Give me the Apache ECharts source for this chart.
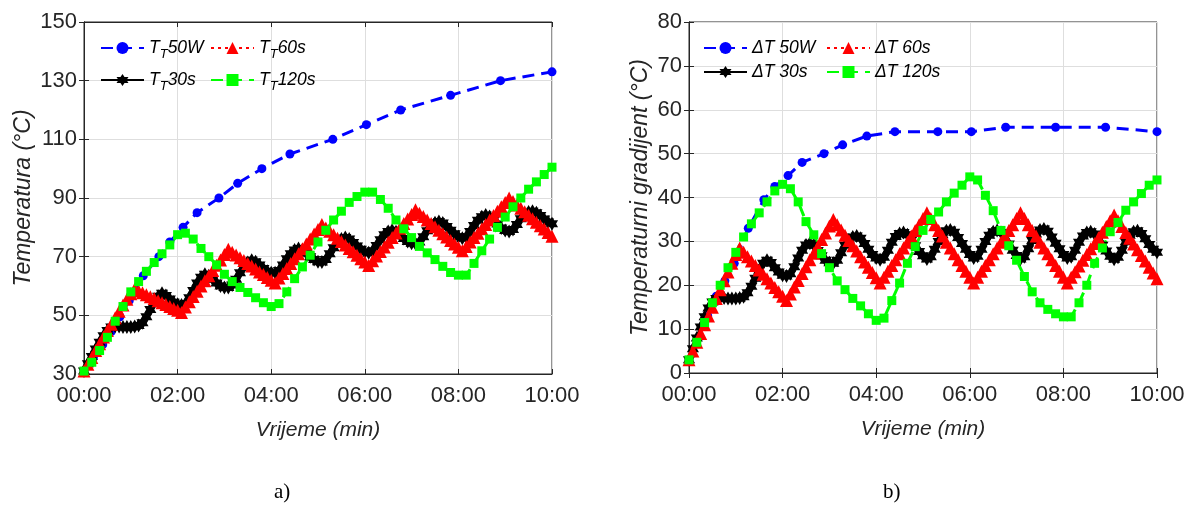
<!DOCTYPE html>
<html><head><meta charset="utf-8">
<script src="https://cdn.jsdelivr.net/npm/echarts@6/dist/echarts.min.js"></script>
<style>html,body{margin:0;padding:0;background:#fff}#c{width:1192px;height:508px}</style>
</head><body><div id="c"></div>
<script>
// time stamps in seconds
const tBlue = [0, 12, 24, 35, 46, 58, 76, 96, 110, 127, 145, 173, 197, 228, 264, 319, 362, 406, 470, 534, 600];
const t5 = [0,5,10,15,20,25,30,35,40,45,50,55,60,65,70,75,80,85,90,95,100,105,110,115,120,125,130,135,140,145,150,155,160,165,170,175,180,185,190,195,200,205,210,215,220,225,230,235,240,245,250,255,260,265,270,275,280,285,290,295,300,305,310,315,320,325,330,335,340,345,350,355,360,365,370,375,380,385,390,395,400,405,410,415,420,425,430,435,440,445,450,455,460,465,470,475,480,485,490,495,500,505,510,515,520,525,530,535,540,545,550,555,560,565,570,575,580,585,590,595,600];
const t10 = [0,10,20,30,40,50,60,70,80,90,100,110,120,130,140,150,160,170,180,190,200,210,220,230,240,250,260,270,280,290,300,310,320,330,340,350,360,370,380,390,400,410,420,430,440,450,460,470,480,490,500,510,520,530,540,550,560,570,580,590,600];

// panel a) temperature T_T
const blueT = [31, 35.5, 40, 44.5, 49.5, 55, 63.5, 70, 75, 80, 85, 90, 95, 100, 105, 110, 115, 120, 125, 130, 133];
const redT = [31,33.3,35.6,38,40.3,42.6,44.8,47,49.2,51.4,53.5,55.5,57.4,59,
 58.3,57.7,57,56.3,55.7,55,54.3,53.7,53,52.3,51.7,51,
 52.8,54.6,56.4,58.2,60,61.8,63.5,65.3,67.1,68.9,70.7,72.5,
 71.5,70.6,69.6,68.7,67.7,66.8,65.8,64.8,63.9,62.9,62,61,
 62.7,64.3,66,67.7,69.3,71,72.7,74.3,76,77.7,79.3,81,
 79.8,78.7,77.5,76.3,75.2,74,72.8,71.7,70.5,69.3,68.2,67,
 68.6,70.2,71.8,73.3,74.9,76.5,78.1,79.7,81.3,82.8,84.4,86,
 84.8,83.7,82.5,81.3,80.2,79,77.8,76.7,75.5,74.3,73.2,72,
 73.5,75,76.5,78,79.5,81,82.5,84,85.5,87,88.5,90,
 88.8,87.6,86.5,85.3,84.1,82.9,81.7,80.5,79.4,78.2,77];
const blackT = [31,33.5,36,38.5,40.8,43,44.8,46,46.3,46.2,46,46,
 46,46.2,46.5,47.5,49.5,52,54.5,56.5,57.5,56.8,55.6,54.5,
 53.8,53.5,54,56,58.5,61,63,64,63.5,62.3,61,60,
 59.5,59.5,60.3,62.3,64.5,66.5,68,68.8,68.3,67.2,66,65,
 64.5,64.5,65.3,67.2,69.3,71,72.3,72.8,72.3,71.2,70,69,
 68.3,68.2,69,71,73,74.8,76,76.5,76,74.8,73.6,72.5,
 71.6,71.3,72,73.8,75.8,77.5,78.6,79,78.5,77.4,76.2,75.2,
 74.6,74.4,75,76.8,78.8,80.5,81.6,82,81.5,80.3,79,77.8,
 76.8,76.3,76.8,78.6,80.6,82.4,83.6,84.2,83.7,82.5,81.1,79.8,
 78.9,78.6,79.3,81,82.9,84.4,85.2,85.5,85,84,82.8,81.8,
 81.2];
const greenT = [31,34,38,42.5,48,53,58,61.5,65,68,71,74,
 77.5,78,76,72.8,70,67.2,64,61.5,59.5,57.8,56,54.3,
 53,54,58,62.5,66.5,70.5,75,79,82.5,85.5,88.5,90.5,
 92,92,89.5,86.5,82.5,79.5,76.5,73.5,71.3,69,66.7,64.6,
 63.7,63.7,67.7,72,76,80,83.5,87,90,93,95.5,98,
 100.5];

// panel b) temperature gradient ΔT
const blueDT = [3, 8, 13, 17.5, 21, 25, 33, 39.5, 42.5, 45, 48, 50, 52, 54, 55, 55, 55, 56, 56, 56, 55];
const redDT = [3,5,7,9,11,13,15,17,19,21,23,25,27,28.5,
 27.5,26.5,25.5,24.5,23.5,22.5,21.5,20.5,19.5,18.5,17.5,16.5,
 18,19.6,21.1,22.7,24.2,25.8,27.3,28.8,30.4,31.9,33.5,35,
 33.8,32.6,31.4,30.2,29,27.8,26.5,25.3,24.1,22.9,21.7,20.5,
 21.8,23.2,24.5,25.8,27.2,28.5,29.8,31.2,32.5,33.8,35.2,36.5,
 35.2,33.8,32.5,31.2,29.8,28.5,27.2,25.8,24.5,23.2,21.8,20.5,
 21.8,23.2,24.5,25.8,27.2,28.5,29.8,31.2,32.5,33.8,35.2,36.5,
 35.2,33.8,32.5,31.2,29.8,28.5,27.2,25.8,24.5,23.2,21.8,20.5,
 21.8,23.1,24.4,25.7,27,28.3,29.5,30.8,32.1,33.4,34.7,36,
 34.7,33.4,32,30.7,29.4,28.1,26.8,25.5,24.1,22.8,21.5];
const blackDT = [3,5.5,8,10.5,12.8,14.8,16.2,17,17.2,17.1,17,17,
 17,17.1,17.4,18.3,19.8,21.6,23.4,25,25.7,25.2,24,23,
 22.3,22.1,22.6,24.2,26.2,28,29.2,29.6,29.1,27.9,26.7,25.7,
 25.1,25,25.7,27.4,29.1,30.3,31,31.2,30.7,29.5,28.2,27,
 26.2,25.8,26.4,28,29.8,31.1,31.8,32,31.5,30.3,29,27.7,
 26.7,26,26.5,28.2,30,31.5,32.4,32.6,32.1,30.9,29.5,28.2,
 27,26.2,26.6,28.2,30,31.4,32.2,32.5,32,30.8,29.4,28,
 26.8,26,26.5,28.3,30.2,31.7,32.6,32.8,32.3,31,29.6,28.3,
 27,26.2,26.5,28,29.8,31.2,32,32.2,31.7,30.5,29.1,27.8,
 26.6,25.9,26.4,28,29.9,31.4,32.2,32.4,31.8,30.6,29.3,28.2,
 27.5];
const greenDT = [3,7,11.5,16,20,24,27.5,31,34,36.5,39,41.5,
 43,42,39,34.5,31.5,27.2,24,21,19,17,15.3,13.5,
 12,12.5,16.5,20.5,25,28.8,32.5,35,36.7,39,41,42.8,
 44.7,44,40.5,37,32.5,29,25.7,22,18.5,16,14.5,13.5,
 12.8,12.8,16,20,25,28.5,32.2,34.3,37.1,39,40.9,42.8,
 44];

const namesA = ['T_T50W', 'T_T60s', 'T_T30s', 'T_T120s'];
const namesB = ['ΔT 50W', 'ΔT 60s', 'ΔT 30s', 'ΔT 120s'];
const yTicksA = [30, 150, 20];
const yTicksB = [0, 80, 10];

const FONT = '"Liberation Sans", Arial, Helvetica, sans-serif';
const STAR = 'path://M10 0 L12.89 5 L18.66 5 L15.77 10 L18.66 15 L12.89 15 L10 20 L7.11 15 L1.34 15 L4.23 10 L1.34 5 L7.11 5 Z';
const pair = (ts, vs) => ts.map((t, i) => [t, vs[i]]);
const pad = n => (n < 10 ? '0' : '') + n;
const fmtTime = v => pad(Math.floor(v / 60)) + ':' + pad(Math.round(v % 60));

const styles = {
  blue:  { color: '#0000ff', symbol: 'circle', size: 9, type: [12, 7] },
  red:   { color: '#ff0000', symbol: 'triangle', size: 13, type: [3, 4] },
  black: { color: '#000000', symbol: STAR, size: 14, type: 'solid' },
  green: { color: '#00ff00', symbol: 'rect', size: 9, type: [12, 7] }
};
function mk(name, data, st, gi) {
  return {
    type: 'line', name, data, xAxisIndex: gi, yAxisIndex: gi,
    symbol: st.symbol, symbolSize: st.size, symbolKeepAspect: true,
    showSymbol: true, showAllSymbol: true,
    lineStyle: { color: st.color, width: 3, type: st.type },
    itemStyle: { color: st.color, borderWidth: 0 },
    animation: false, silent: true
  };
}

const grids = [
  { left: 84, top: 22, width: 468, height: 352, show: true, borderColor: '#262626', borderWidth: 1 },
  { left: 689, top: 22, width: 468, height: 351, show: true, borderColor: '#262626', borderWidth: 1 }
];
const axCol = '#262626';
function xBottom(gi) {
  return { type: 'value', gridIndex: gi, min: 0, max: 600, interval: 120, position: 'bottom',
    name: 'Vrijeme (min)', nameLocation: 'middle', nameGap: 46,
    nameTextStyle: { fontFamily: FONT, fontStyle: 'italic', fontSize: 21, color: axCol },
    axisLine: { show: true, lineStyle: { color: axCol, width: 1 } },
    axisTick: { inside: true, length: 5, lineStyle: { color: axCol } },
    axisLabel: { formatter: fmtTime, fontFamily: FONT, fontSize: 22, color: axCol, margin: 11 },
    splitLine: { show: true, lineStyle: { color: '#dedede', width: 1 } } };
}
function xTop(gi) {
  return { type: 'value', gridIndex: gi, min: 0, max: 600, interval: 120, position: 'top',
    axisLine: { show: true, lineStyle: { color: axCol } },
    axisTick: { inside: true, length: 5, lineStyle: { color: axCol } },
    axisLabel: { show: false }, splitLine: { show: false } };
}
function yLeft(gi, ticks, name, gap) {
  return { type: 'value', gridIndex: gi, min: ticks[0], max: ticks[1], interval: ticks[2], position: 'left',
    name, nameLocation: 'middle', nameGap: gap,
    nameTextStyle: { fontFamily: FONT, fontStyle: 'italic', fontSize: 23, color: axCol },
    axisLine: { show: true, lineStyle: { color: axCol } },
    axisTick: { inside: true, length: 5, lineStyle: { color: axCol } },
    axisLabel: { fontFamily: FONT, fontSize: 22, color: axCol, margin: 7 },
    splitLine: { show: true, lineStyle: { color: '#dedede', width: 1 } } };
}
function yRight(gi, ticks) {
  return { type: 'value', gridIndex: gi, min: ticks[0], max: ticks[1], interval: ticks[2], position: 'right',
    axisLine: { show: true, lineStyle: { color: axCol } },
    axisTick: { inside: true, length: 5, lineStyle: { color: axCol } },
    axisLabel: { show: false }, splitLine: { show: false } };
}

const richA = {
  i: { fontFamily: FONT, fontStyle: 'italic', fontSize: 17.5, color: '#000' },
  s: { fontFamily: FONT, fontStyle: 'italic', fontSize: 13, color: '#000', verticalAlign: 'bottom', padding: [12, 0, 0, 0] }
};
function legendItem(name, left, top, isA) {
  return {
    data: [name], left, top, itemWidth: 43, itemHeight: 15, padding: 0, itemGap: 4,
    formatter: isA ? (n => '{i|T}{s|T}{i|' + n.slice(3) + '}') : (n => n),
    textStyle: isA ? { rich: richA } : { fontFamily: FONT, fontStyle: 'italic', fontSize: 17.5, color: '#000' },
    selectedMode: false
  };
}

const option = {
  backgroundColor: '#ffffff',
  animation: false,
  grid: grids,
  xAxis: [xBottom(0), xBottom(1), xTop(0), xTop(1)],
  yAxis: [yLeft(0, yTicksA, 'Temperatura (°C)', 49), yLeft(1, yTicksB, 'Temperaturni gradijent (°C)', 37), yRight(0, yTicksA), yRight(1, yTicksB)],
  legend: [
    legendItem(namesA[0], 100, 39, true), legendItem(namesA[1], 210, 39, true),
    legendItem(namesA[2], 100, 71, true), legendItem(namesA[3], 210, 71, true),
    legendItem(namesB[0], 703, 39, false), legendItem(namesB[1], 826, 39, false),
    legendItem(namesB[2], 703, 63, false), legendItem(namesB[3], 826, 63, false)
  ],
  series: [
    mk(namesA[0], pair(tBlue, blueT), styles.blue, 0),
    mk(namesA[2], pair(t5, blackT), styles.black, 0),
    mk(namesA[1], pair(t5, redT), styles.red, 0),
    mk(namesA[3], pair(t10, greenT), styles.green, 0),
    mk(namesB[0], pair(tBlue, blueDT), styles.blue, 1),
    mk(namesB[2], pair(t5, blackDT), styles.black, 1),
    mk(namesB[1], pair(t5, redDT), styles.red, 1),
    mk(namesB[3], pair(t10, greenDT), styles.green, 1)
  ],
  graphic: [
    { type: 'text', left: 274, top: 482, style: { text: 'a)', font: '21px "Liberation Serif", "Times New Roman", serif', fill: '#000' } },
    { type: 'text', left: 883, top: 482, style: { text: 'b)', font: '21px "Liberation Serif", "Times New Roman", serif', fill: '#000' } }
  ]
};
const chart = echarts.init(document.getElementById('c'), null, { renderer: 'canvas' });
chart.setOption(option);
</script>
</body></html>
